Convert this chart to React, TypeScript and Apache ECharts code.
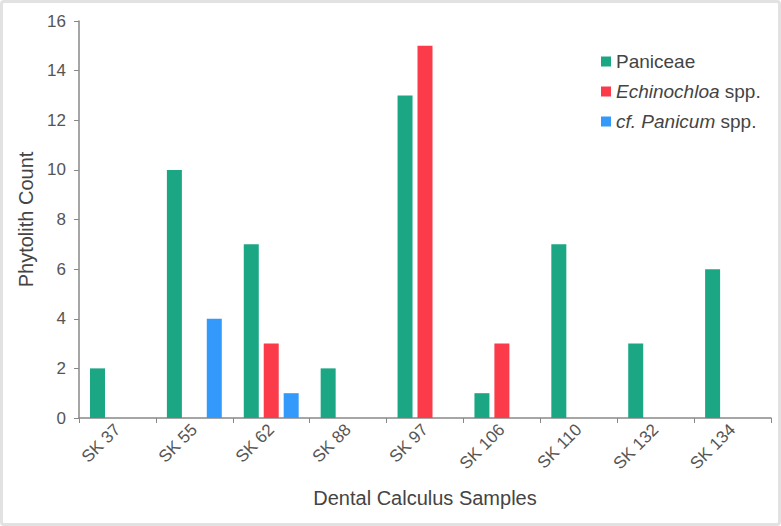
import React, { useEffect, useRef } from "react";
import * as echarts from "echarts";

const categories = ["SK 37", "SK 55", "SK 62", "SK 88", "SK 97", "SK 106", "SK 110", "SK 132", "SK 134"];
const paniceae = [2, 10, 7, 2, 13, 1, 7, 3, 6];
const echinochloa = [null, null, 3, null, 15, 3, null, null, null];
const panicum = [null, 4, 1, null, null, null, null, null, null];
const seriesNames = ["Paniceae", "Echinochloa spp.", "cf. Panicum spp."];
const colors = ["#1ba784", "#fb3a4a", "#3399fb"];

export default function App() {
  const ref = useRef<HTMLDivElement>(null);
  useEffect(() => {
    if (!ref.current) return;
    const chart = echarts.init(ref.current, undefined, { renderer: "svg" });
    const font = "'Liberation Sans', Arial, sans-serif";
    chart.setOption({
      animation: false,
      textStyle: { fontFamily: font },
      grid: { left: 79, right: 10, top: 21, bottom: 108, containLabel: false },
      legend: {
        orient: "vertical",
        left: 596,
        top: 47,
        itemWidth: 10,
        itemHeight: 10,
        itemGap: 11,
        icon: "rect",
        textStyle: {
          fontSize: 19,
          color: "#444",
          fontFamily: font,
          rich: { i: { fontStyle: "italic", fontSize: 19, color: "#444", fontFamily: font } },
        },
        formatter: (name: string) => {
          if (name === "Echinochloa spp.") return "{i|Echinochloa} spp.";
          if (name === "cf. Panicum spp.") return "{i|cf. Panicum} spp.";
          return name;
        },
      },
      xAxis: {
        type: "category",
        data: categories,
        name: "Dental Calculus Samples",
        nameLocation: "middle",
        nameGap: 70,
        nameTextStyle: { fontSize: 20, color: "#444", fontFamily: font },
        axisLine: { lineStyle: { color: "#888", width: 1.5 } },
        axisTick: { show: true, length: 5, lineStyle: { color: "#888" } },
        axisLabel: { rotate: 45, fontSize: 17, color: "#555", margin: 9, fontFamily: font },
      },
      yAxis: {
        type: "value",
        min: 0,
        max: 16,
        interval: 2,
        name: "Phytolith Count",
        nameLocation: "middle",
        nameGap: 42,
        nameTextStyle: { fontSize: 20, color: "#444", fontFamily: font },
        axisLine: { show: true, lineStyle: { color: "#888", width: 1.5 } },
        axisTick: { show: true, length: 5, lineStyle: { color: "#888" } },
        splitLine: { show: false },
        axisLabel: { fontSize: 17, color: "#555", margin: 13, fontFamily: font },
      },
      series: [
        { name: seriesNames[0], type: "bar", data: paniceae, barWidth: 15, barGap: "33%", itemStyle: { color: colors[0] } },
        { name: seriesNames[1], type: "bar", data: echinochloa, barWidth: 15, barGap: "33%", itemStyle: { color: colors[1] } },
        { name: seriesNames[2], type: "bar", data: panicum, barWidth: 15, barGap: "33%", itemStyle: { color: colors[2] } },
      ],
    });
    return () => chart.dispose();
  }, []);
  return (
    <div
      style={{
        position: "fixed",
        left: 0,
        top: 0,
        width: 781,
        height: 526,
        boxSizing: "border-box",
        border: "3px solid #e2e2e2",
        borderRadius: 4,
        background: "#fff",
      }}
    >
      <div ref={ref} style={{ position: "absolute", left: -3, top: -3, width: 781, height: 526 }} />
    </div>
  );
}
